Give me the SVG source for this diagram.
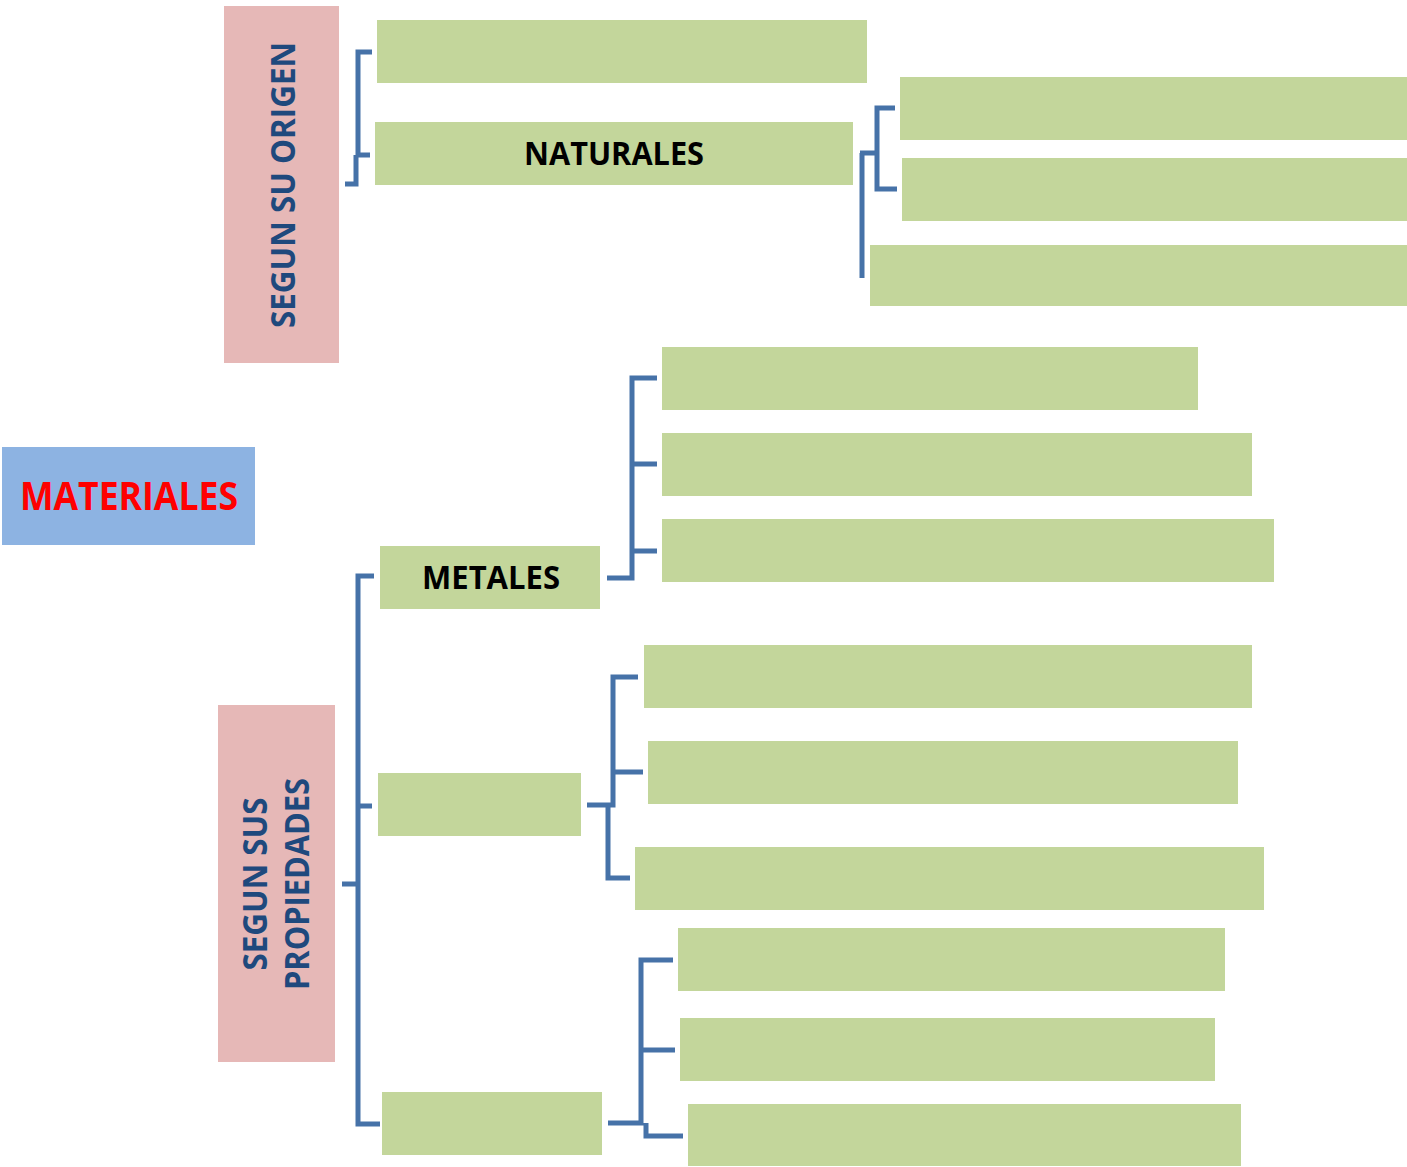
<svg xmlns="http://www.w3.org/2000/svg" width="1407" height="1167" viewBox="0 0 1407 1167">
<style>
.g{fill:#C3D69B}
.p{fill:#E6B8B7}
.c{fill:none;stroke:#4672A8;stroke-width:5;stroke-linejoin:miter}
.t{font-family:"Open Sans","Liberation Sans",sans-serif;font-weight:bold}
.bk{font-size:32px;fill:#000}
.db{font-size:34px;fill:#1F497D}
</style>
<rect width="1407" height="1167" fill="#fff"/>
<g id="origen">
<rect class="p" x="224" y="6" width="115" height="357"/>
<text class="t db" transform="translate(295,185) rotate(-90)" text-anchor="middle" textLength="286" lengthAdjust="spacingAndGlyphs">SEGUN SU ORIGEN</text>
</g>
<g id="propiedades">
<rect class="p" x="218" y="705" width="117" height="357"/>
<text class="t db" transform="translate(267,884) rotate(-90)" text-anchor="middle" textLength="173" lengthAdjust="spacingAndGlyphs">SEGUN SUS</text>
<text class="t db" transform="translate(309,884) rotate(-90)" text-anchor="middle" textLength="212" lengthAdjust="spacingAndGlyphs">PROPIEDADES</text>
</g>
<g id="materiales">
<rect x="2" y="447" width="253" height="98" fill="#8DB3E2"/>
<text class="t" x="129" y="510" font-size="40" fill="#FF0000" text-anchor="middle" textLength="218" lengthAdjust="spacingAndGlyphs">MATERIALES</text>
</g>
<g id="o1"><rect class="g" x="377" y="20" width="490" height="63"/></g>
<g id="naturales"><rect class="g" x="375" y="122" width="478" height="63"/>
<text class="t bk" x="614" y="165" text-anchor="middle" textLength="180" lengthAdjust="spacingAndGlyphs">NATURALES</text></g>
<g id="n1"><rect class="g" x="900" y="77" width="507" height="63"/></g>
<g id="n2"><rect class="g" x="902" y="158" width="505" height="63"/></g>
<g id="n3"><rect class="g" x="870" y="245" width="537" height="61"/></g>
<g id="m1"><rect class="g" x="662" y="347" width="536" height="63"/></g>
<g id="m2"><rect class="g" x="662" y="433" width="590" height="63"/></g>
<g id="m3"><rect class="g" x="662" y="519" width="612" height="63"/></g>
<g id="metales"><rect class="g" x="380" y="546" width="220" height="63"/>
<text class="t bk" x="491" y="589" text-anchor="middle" textLength="138" lengthAdjust="spacingAndGlyphs">METALES</text></g>
<g id="p1"><rect class="g" x="644" y="645" width="608" height="63"/></g>
<g id="p2"><rect class="g" x="648" y="741" width="590" height="63"/></g>
<g id="b2"><rect class="g" x="378" y="773" width="203" height="63"/></g>
<g id="p3"><rect class="g" x="635" y="847" width="629" height="63"/></g>
<g id="q1"><rect class="g" x="678" y="928" width="547" height="63"/></g>
<g id="q2"><rect class="g" x="680" y="1018" width="535" height="63"/></g>
<g id="b3"><rect class="g" x="382" y="1092" width="220" height="63"/></g>
<g id="q3"><rect class="g" x="688" y="1104" width="553" height="62"/></g>
<g id="connectors">
<path class="c" d="M372,52 H358 V155 H370 M345,184 H356 V155"/>
<path class="c" d="M895,108 H877 V189 H897 M860,153 H877 M862,153 V278"/>
<path class="c" d="M657,378 H632 V578 H607 M632,464 H657 M632,551 H657"/>
<path class="c" d="M374,576 H358 V1124 H380 M358,806 H372 M342,884 H358"/>
<path class="c" d="M638,677 H613 V805 H587 M613,772 H643 M608,805 V878 H630"/>
<path class="c" d="M673,960 H641 V1123 H608 M641,1050 H675 M646,1123 V1136 H683"/>
</g>
</svg>
